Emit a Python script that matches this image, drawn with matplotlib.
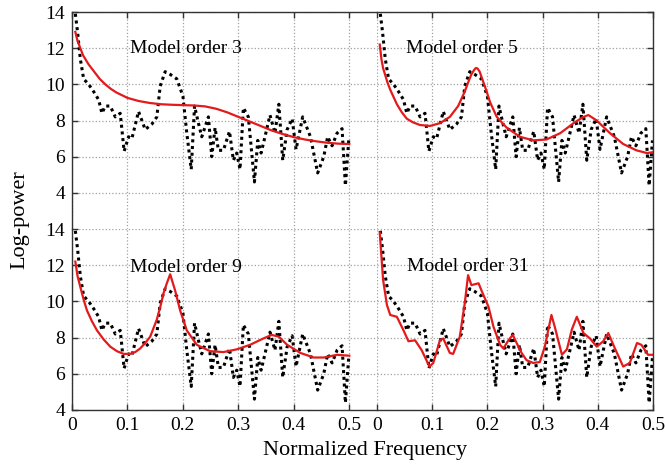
import numpy as np
import matplotlib
matplotlib.use("Agg")
import matplotlib.pyplot as plt

plt.rcParams['font.family'] = ['Liberation Serif', 'DejaVu Serif']

# periodogram (same in every panel)
pg_f = [0.006, 0.010, 0.015, 0.021, 0.030, 0.039, 0.048, 0.054, 0.060, 0.069,
        0.078, 0.087, 0.094, 0.102, 0.108, 0.120, 0.132, 0.144, 0.153, 0.159,
        0.168, 0.177, 0.189, 0.200, 0.207, 0.215, 0.221, 0.228, 0.234, 0.246,
        0.252, 0.258, 0.264, 0.273, 0.284, 0.291, 0.297, 0.303, 0.309, 0.318,
        0.329, 0.335, 0.341, 0.348, 0.357, 0.366, 0.373, 0.380, 0.388, 0.397,
        0.404, 0.416, 0.430, 0.443, 0.454, 0.461, 0.469, 0.478, 0.487, 0.493,
        0.499]
pg_p = [13.9, 12.9, 11.4, 10.3, 10.0, 9.6, 9.15, 8.4, 8.8, 8.8,
        8.2, 8.4, 6.3, 7.1, 7.0, 8.5, 7.5, 7.8, 8.2, 9.9,
        10.7, 10.55, 10.3, 9.35, 7.3, 5.3, 8.8, 7.85, 7.1, 8.2,
        6.0, 7.6, 6.35, 6.35, 7.4, 5.8, 6.2, 5.3, 8.7, 8.2,
        4.6, 6.9, 6.2, 7.1, 8.3, 7.3, 8.9, 5.8, 7.5, 8.1,
        6.4, 8.2, 7.1, 5.1, 6.0, 7.1, 6.6, 7.3, 7.55, 4.4,
        6.9]

# AR model spectra
ar3_f = [0.006, 0.01, 0.02, 0.03, 0.04, 0.05, 0.06, 0.07, 0.08, 0.09,
         0.1, 0.12, 0.14, 0.16, 0.18, 0.2, 0.22, 0.24, 0.26, 0.28,
         0.3, 0.32, 0.34, 0.36, 0.38, 0.4, 0.42, 0.44, 0.46, 0.48, 0.5]
ar3_p = [12.9, 12.4, 11.6, 11.1, 10.7, 10.3, 10.0, 9.75, 9.55, 9.4,
         9.25, 9.08, 8.97, 8.9, 8.87, 8.85, 8.83, 8.78, 8.65, 8.45,
         8.2, 7.95, 7.7, 7.45, 7.25, 7.08, 6.95, 6.85, 6.77, 6.72, 6.7]

ar5_f = [0.005, 0.008, 0.011, 0.014, 0.019, 0.024, 0.03, 0.036, 0.045, 0.054,
         0.065, 0.078, 0.096, 0.114, 0.132, 0.147, 0.159, 0.165, 0.171, 0.176,
         0.179, 0.182, 0.186, 0.19, 0.197, 0.205, 0.217, 0.235, 0.259, 0.283,
         0.307, 0.332, 0.356, 0.374, 0.383, 0.398, 0.422, 0.446, 0.47, 0.489,
         0.5]
ar5_p = [12.2, 11.4, 10.9, 10.6, 10.1, 9.7, 9.3, 8.9, 8.45, 8.1,
         7.9, 7.75, 7.7, 7.85, 8.2, 8.8, 9.6, 10.1, 10.55, 10.8,
         10.9, 10.88, 10.7, 10.35, 9.75, 9.0, 8.2, 7.6, 7.1, 6.9,
         6.95, 7.3, 7.85, 8.2, 8.3, 8.0, 7.3, 6.7, 6.35, 6.2,
         6.25]

ar9_f = [0.006, 0.01, 0.015, 0.021, 0.027, 0.036, 0.045, 0.057, 0.069, 0.081,
         0.093, 0.105, 0.114, 0.123, 0.132, 0.141, 0.153, 0.16, 0.165, 0.171,
         0.177, 0.181, 0.186, 0.195, 0.207, 0.225, 0.249, 0.273, 0.297, 0.321,
         0.345, 0.36, 0.373, 0.388, 0.412, 0.436, 0.454, 0.478, 0.5]
ar9_p = [12.2, 11.4, 10.8, 10.1, 9.5, 8.9, 8.4, 7.9, 7.5, 7.25,
         7.1, 7.1, 7.2, 7.4, 7.7, 8.05, 9.0, 9.8, 10.45, 11.0,
         11.5, 11.1, 10.6, 9.5, 8.4, 7.6, 7.25, 7.2, 7.35, 7.6,
         7.95, 8.15, 8.05, 7.6, 7.15, 6.9, 6.9, 7.05, 7.0]

ar31_f = [0.005, 0.011, 0.018, 0.024, 0.036, 0.048, 0.057, 0.069, 0.081, 0.095,
          0.102, 0.114, 0.12, 0.132, 0.138, 0.15, 0.159, 0.165, 0.171, 0.184,
          0.19, 0.202, 0.211, 0.223, 0.229, 0.238, 0.246, 0.253, 0.262, 0.271,
          0.283, 0.295, 0.304, 0.316, 0.322, 0.335, 0.344, 0.353, 0.362, 0.374,
          0.386, 0.398, 0.41, 0.419, 0.431, 0.446, 0.458, 0.471, 0.479, 0.491,
          0.5]
ar31_p = [13.8, 11.2, 9.8, 9.25, 9.15, 8.4, 7.8, 7.85, 7.3, 6.4,
          6.6, 7.85, 7.95, 7.15, 7.1, 8.05, 9.9, 11.45, 10.9, 11.0,
          10.55, 9.7, 8.6, 7.6, 7.4, 7.85, 8.15, 7.7, 7.15, 6.75,
          6.6, 6.65, 7.5, 9.25, 8.6, 7.05, 7.35, 8.45, 9.15, 8.25,
          7.95, 7.5, 7.8, 8.25, 7.4, 6.4, 6.6, 7.7, 7.6, 7.05,
          7.05]

labels = ['Model order 3', 'Model order 5', 'Model order 9', 'Model order 31']
xticks = [0, 0.1, 0.2, 0.3, 0.4, 0.5]
xticklabels = ['0', '0.1', '0.2', '0.3', '0.4', '0.5']
yticks = [4, 6, 8, 10, 12, 14]

W, H = 665, 466
fig = plt.figure(figsize=(W / 100, H / 100), dpi=100)

# panel boxes in pixels: (left, right, top, bottom)
lx, mx, rx = 72, 377, 653
ty, my, by = 12, 229, 410

def make_ax(x0, x1, y0, y1):
    return fig.add_axes([x0 / W, 1 - y1 / H, (x1 - x0) / W, (y1 - y0) / H])

axes = [make_ax(lx, mx, ty, my), make_ax(mx, rx, ty, my),
        make_ax(lx, mx, my, by), make_ax(mx, rx, my, by)]
fits = [(ar3_f, ar3_p), (ar5_f, ar5_p), (ar9_f, ar9_p), (ar31_f, ar31_p)]
text_x = [0.105, 0.052, 0.105, 0.054]
text_y = [12.0, 12.0, 11.9, 11.95]

for i, ax in enumerate(axes):
    top = i < 2
    left = i % 2 == 0
    ax.plot(pg_f, pg_p, color='black', linestyle=(0, (1, 1.2)), lw=2.2, zorder=3)
    ax.plot(fits[i][0], fits[i][1], color='#e31a1c', lw=1.6, zorder=4)
    ax.set_xlim(0, 0.55 if left else 0.5)
    ax.set_ylim(2 if top else 4, 14)
    ax.set_xticks(xticks)
    ax.set_yticks(yticks)
    ax.grid(True, linestyle=':', color='#a0a0a0', lw=0.9)
    ax.set_axisbelow(True)
    ax.text(text_x[i], text_y[i], labels[i], fontsize=14, va='center', ha='left', zorder=5)

    for side in ['left', 'right', 'top', 'bottom']:
        ax.spines[side].set_visible(False)
    ax.spines['top' if top else 'bottom'].set_visible(True)
    ax.spines['left' if left else 'right'].set_visible(True)
    for s in ax.spines.values():
        s.set_linewidth(1.0)
        s.set_color('#333333')

    ax.tick_params(direction='in', length=4, width=1, color='#333333',
                   labelsize=14, top=top, bottom=not top,
                   left=left, right=not left,
                   labeltop=False, labelbottom=not top,
                   labelleft=left, labelright=False, pad=5)
    if not top:
        ax.set_xticklabels(xticklabels)

fig.text(365 / W, 1 - 450 / H, 'Normalized Frequency', fontsize=16, ha='center', va='center')
fig.text(20 / W, 1 - 220 / H, 'Log-power', fontsize=16, ha='center', va='center', rotation=90)

fig.savefig('out.png', dpi=100)
